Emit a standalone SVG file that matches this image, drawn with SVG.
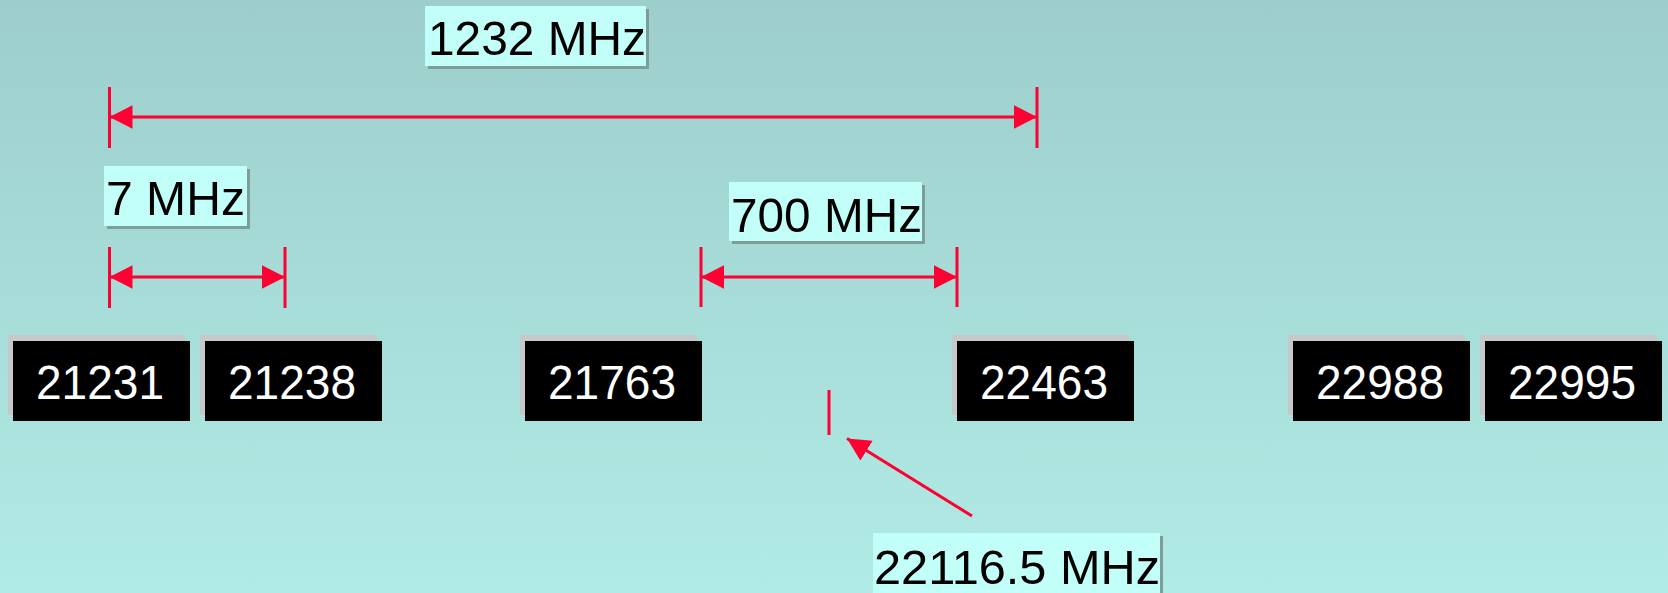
<svg xmlns="http://www.w3.org/2000/svg" width="1668" height="593" viewBox="0 0 1668 593">
<style>
.bg{fill:url(#bgGrad)}
.shadow{fill:#c8c8c8}
.box{fill:#000000}
.ntext{fill:#ffffff;font-family:"Liberation Sans",Arial,sans-serif;font-size:48px;text-anchor:middle}
.lshadow{fill:#7e9c99}
.lbox{fill:#c2fff9}
.ltext{fill:#000000;font-family:"Liberation Sans",Arial,sans-serif;font-size:49px}
.red{stroke:#ff0033;stroke-width:3;fill:none}
</style>
<defs>
<linearGradient id="bgGrad" x1="0" y1="0" x2="0" y2="1">
<stop offset="0" stop-color="#9dcecb"/>
<stop offset="1" stop-color="#b1ebe5"/>
</linearGradient>
<marker id="arr" markerUnits="userSpaceOnUse" markerWidth="24" markerHeight="24" refX="23" refY="11.7" orient="auto-start-reverse" viewBox="0 0 24 24">
<path d="M0,0 L23,11.7 L0,23.4 Z" fill="#ff0033"/>
</marker>
</defs>
<rect class="bg" x="0" y="0" width="1668" height="593"/>

<g id="n21231"><rect class="shadow" x="8" y="335" width="177" height="80"/><rect class="box" x="13" y="341" width="177" height="80"/><text class="ntext" x="100" y="399" textLength="128" lengthAdjust="spacingAndGlyphs">21231</text></g>
<g id="n21238"><rect class="shadow" x="200" y="335" width="177" height="80"/><rect class="box" x="205" y="341" width="177" height="80"/><text class="ntext" x="292" y="399" textLength="128" lengthAdjust="spacingAndGlyphs">21238</text></g>
<g id="n21763"><rect class="shadow" x="520" y="335" width="177" height="80"/><rect class="box" x="525" y="341" width="177" height="80"/><text class="ntext" x="612" y="399" textLength="128" lengthAdjust="spacingAndGlyphs">21763</text></g>
<g id="n22463"><rect class="shadow" x="952" y="335" width="177" height="80"/><rect class="box" x="957" y="341" width="177" height="80"/><text class="ntext" x="1044" y="399" textLength="128" lengthAdjust="spacingAndGlyphs">22463</text></g>
<g id="n22988"><rect class="shadow" x="1288" y="335" width="177" height="80"/><rect class="box" x="1293" y="341" width="177" height="80"/><text class="ntext" x="1380" y="399" textLength="128" lengthAdjust="spacingAndGlyphs">22988</text></g>
<g id="n22995"><rect class="shadow" x="1480" y="335" width="177" height="80"/><rect class="box" x="1485" y="341" width="177" height="80"/><text class="ntext" x="1572" y="399" textLength="128" lengthAdjust="spacingAndGlyphs">22995</text></g>

<g id="label1232"><rect class="lshadow" x="428" y="9" width="221" height="60"/><rect class="lbox" x="425" y="6" width="221" height="60"/><text class="ltext" x="428" y="55" textLength="218" lengthAdjust="spacingAndGlyphs">1232 MHz</text></g>
<g id="label7"><rect class="lshadow" x="107" y="169" width="143" height="60"/><rect class="lbox" x="104" y="166" width="143" height="60"/><text class="ltext" x="106" y="215" textLength="139" lengthAdjust="spacingAndGlyphs">7 MHz</text></g>
<g id="label700"><rect class="lshadow" x="732" y="185" width="193" height="59"/><rect class="lbox" x="729" y="182" width="193" height="59"/><text class="ltext" x="731" y="232" textLength="191" lengthAdjust="spacingAndGlyphs">700 MHz</text></g>
<g id="label22116"><rect class="lshadow" x="876" y="536" width="287" height="70"/><rect class="lbox" x="873" y="533" width="287" height="70"/><text class="ltext" x="874" y="584" textLength="286" lengthAdjust="spacingAndGlyphs">22116.5 MHz</text></g>

<g id="connectors">
<line class="red" x1="109.5" y1="87" x2="109.5" y2="148"/>
<line class="red" x1="1037" y1="87" x2="1037" y2="148"/>
<line class="red" x1="109.5" y1="117" x2="1037" y2="117" marker-start="url(#arr)" marker-end="url(#arr)"/>
<line class="red" x1="109.5" y1="247" x2="109.5" y2="308"/>
<line class="red" x1="285" y1="247" x2="285" y2="308"/>
<line class="red" x1="109.5" y1="277" x2="285" y2="277" marker-start="url(#arr)" marker-end="url(#arr)"/>
<line class="red" x1="701" y1="247" x2="701" y2="307"/>
<line class="red" x1="957" y1="247" x2="957" y2="307"/>
<line class="red" x1="701" y1="277" x2="957" y2="277" marker-start="url(#arr)" marker-end="url(#arr)"/>
<line class="red" x1="829" y1="390" x2="829" y2="435"/>
<line class="red" x1="972" y1="516" x2="847" y2="438.5" marker-end="url(#arr)"/>
</g>
</svg>
